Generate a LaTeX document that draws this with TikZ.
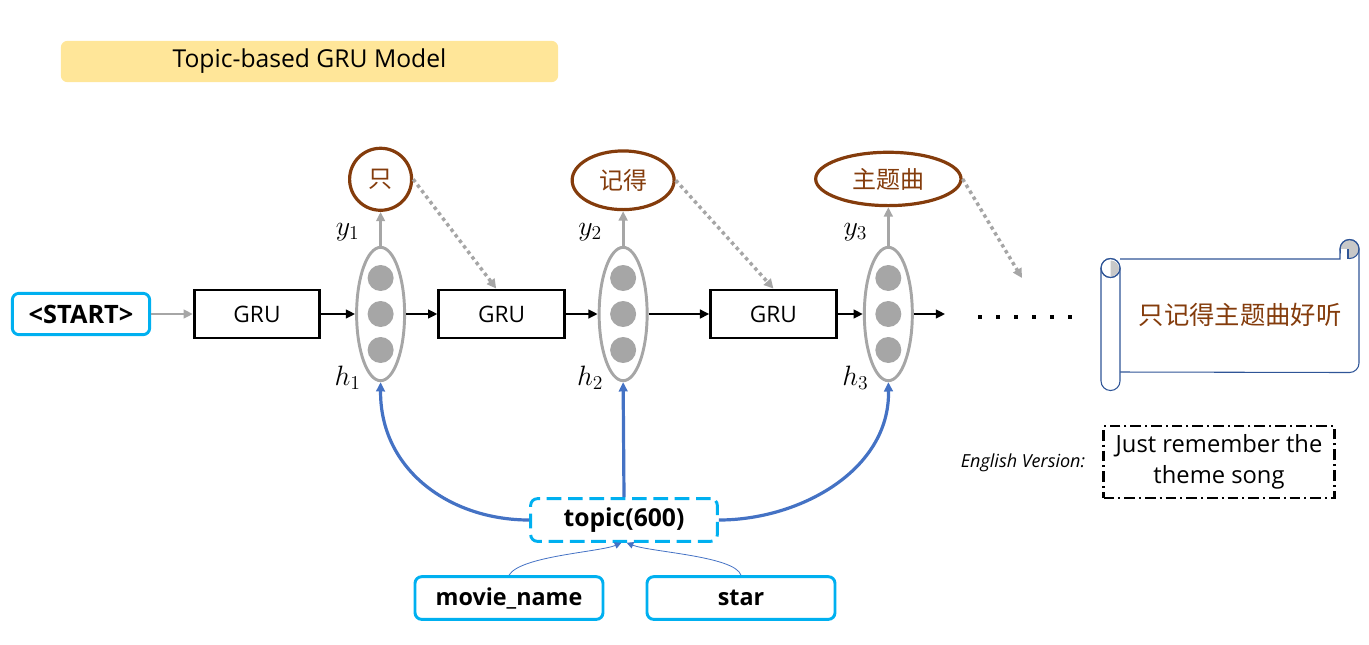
\documentclass[tikz,border=0pt]{standalone}
\usepackage{fix-cm}
\usepackage{fontspec}
\setmainfont{Open Sans}
\newfontfamily\cjk{Noto Sans CJK SC}
\usetikzlibrary{positioning,shapes.geometric,arrows.meta}
\definecolor{inputcolor}{RGB}{0,176,240}
\definecolor{wordcolor}{RGB}{132,60,12}
\definecolor{arrowgray}{RGB}{166,166,166}
\definecolor{topicblue}{RGB}{68,114,196}
\definecolor{titlecolor}{RGB}{255,230,153}
\definecolor{scrollcolor}{RGB}{47,85,151}
\definecolor{scrollfill}{RGB}{200,200,200}

\begin{document}
\begin{tikzpicture}[
	x=0.75pt, y=-0.75pt,
	gru/.style={draw, line width=2.2pt, minimum width=94pt, minimum height=36pt,
		font=\fontsize{17}{20}\selectfont},
	inputbox/.style={draw=inputcolor, line width=2.2pt, rounded corners=5pt,
		minimum height=31pt, font=\fontsize{17.5}{21}\selectfont\bfseries},
	hidden/.style={ellipse, draw=arrowgray, line width=2.2pt, minimum width=36pt,
		minimum height=100pt, inner sep=0pt},
	hunit/.style={circle, fill=arrowgray, minimum size=19.5pt, inner sep=0pt},
	wordnode/.style={draw=wordcolor, line width=2.4pt, text=wordcolor, inner sep=1pt,
		font=\cjk\fontsize{18}{21}\selectfont},
	statelabel/.style={font=\fontsize{21}{23}\selectfont},
	flow/.style={-{Triangle[length=7pt,width=6.5pt]}, line width=2.2pt},
	feedback/.style={-{Triangle[length=7pt,width=7pt]}, arrowgray, line width=2.6pt,
		dash pattern=on 2.6pt off 2.6pt},
	topiclink/.style={-{Triangle[length=7pt,width=6.5pt]}, topicblue, line width=2.4pt},
	sidelink/.style={-{Triangle[length=5pt,width=5pt]}, topicblue, line width=0.6pt},
	scrollline/.style={draw=scrollcolor, line width=0.8pt},
]
\useasboundingbox (0,0) rectangle (1369,644);
% \hiddenlayer[placement](name){step}: ellipse with three units and its y/h labels.
\def\hiddenlayer[#1](#2)#3{
	\node[hidden, #1] (#2) {};
	\node[hunit] at ([yshift=27pt]#2.center) (#2top) {};
	\node[hunit] at (#2.center) (#2mid) {};
	\node[hunit] at ([yshift=-27pt]#2.center) (#2bot) {};
	\node[statelabel] at ([shift={(-24.75pt,61.5pt)}]#2.center) (ylab#3) {$y_#3$};
	\node[statelabel] at ([shift={(-24.75pt,-48pt)}]#2.center) (hlab#3) {$h_#3$};
}
	\node[fill=titlecolor, rounded corners=5pt, minimum width=373pt, minimum height=31pt,
		font=\fontsize{18.5}{20}\selectfont] (title) at (309.5,61.5) {Topic-based GRU Model};

	% Recurrent chain.
	\node[inputbox, minimum width=103pt, font=\fontsize{19}{21}\selectfont\bfseries]
		(start) at (81,314) {<START>};
	\node[gru] (gru1) at (257,314) {GRU};
	\hiddenlayer[right=25.5pt of gru1](hs1){1}
	\node[gru, right=23.5pt of hs1] (gru2) {GRU};
	\hiddenlayer[right=24pt of gru2](hs2){2}
	\node[gru, right=45.5pt of hs2] (gru3) {GRU};
	\hiddenlayer[right=19pt of gru3](hs3){3}
	\coordinate[right=23.5pt of hs3] (hs3out);

	\draw[flow, arrowgray] (start) -- (gru1);
	\draw[flow] (gru1) -- (hs1);
	\draw[flow] (hs1) -- (gru2);
	\draw[flow] (gru2) -- (hs2);
	\draw[flow] (hs2) -- (gru3);
	\draw[flow] (gru3) -- (hs3);
	\draw[flow] (hs3) -- (hs3out);

	% Generated words.
	\node[wordnode, circle, minimum size=46.5pt, above=25.5pt of hs1] (w1) {只};
	\node[wordnode, ellipse, minimum width=76.5pt, minimum height=44pt,
		above=26pt of hs2] (w2) {记得};
	\node[wordnode, ellipse, minimum width=109pt, minimum height=40pt,
		above=29pt of hs3] (w3) {主题曲};
	\draw[flow, arrowgray] (hs1) -- (w1);
	\draw[flow, arrowgray] (hs2) -- (w2);
	\draw[flow, arrowgray] (hs3) -- (w3);
	\coordinate (next) at (1022,278);
	\draw[feedback] (w1.east) -- ([xshift=-4pt]gru2.north);
	\draw[feedback] (w2.east) -- (gru3.north);
	\draw[feedback] (w3.east) -- (next);

	\coordinate (dotsL) at (978,317);
	\coordinate (dotsR) at (1072,317);
	\draw[line width=3pt, dash pattern=on 3pt off 10.5pt] (dotsL) -- (dotsR);

	% Topic vector and its inputs.
	\node[inputbox, dash pattern=on 11pt off 5pt, minimum width=140pt, minimum height=32pt,
		font=\fontsize{18.5}{21}\selectfont\bfseries] (topic) at (624,520) {topic(600)};
	\draw[topiclink] (topic.north) -- (hs2.south);
	\draw[topiclink] (topic.west) .. controls (450,520) and (380,470) .. (hs1.south);
	\draw[topiclink] (topic.east) .. controls (800,520) and (890,470) .. (hs3.south);
	\node[inputbox, minimum width=141pt, minimum height=32pt] (movie) at (509,598) {movie\_name};
	\node[inputbox, minimum width=141pt, minimum height=32pt] (star) at (741,598) {star};
	\draw[sidelink] (movie.north) .. controls (520,556) and (600,552) .. ([xshift=-2pt]topic.south);
	\draw[sidelink] (star.north) .. controls (735,556) and (650,552) .. ([xshift=2pt]topic.south);

	% Scroll with the generated sentence.
	\filldraw[scrollline, fill=scrollfill] (1349.5,249) circle (9.5);
	\fill[white] (1340.5,249) rectangle (1347.5,258.5);
	\draw[scrollline] (1348,249) -- (1348,259);
	\draw[scrollline] (1120,259) -- (1340,259) -- (1340,249) arc (180:360:9.5)
		-- (1359,363) arc (0:90:9.5) -- (1120,372);
	\draw[scrollline, fill=white] (1101,268) -- (1101,381) arc (180:0:9.5) -- (1120,268);
	\filldraw[scrollline, fill=white] (1110.5,268) circle (9.5);
	\fill[scrollfill] (1110.5,260.5) arc (270:450:8.5 and 8) -- cycle;
	\draw[scrollline] (1110.5,268) circle (9.5);
	\node[text=wordcolor, font=\cjk\fontsize{19}{22}\selectfont] (result) at (1240,315)
		{只记得主题曲好听};

	\node[font=\itshape\fontsize{13.5}{15}\selectfont] (envlabel) at (1023,463) {English Version:};
	\node[draw, line width=2pt, dash pattern=on 8pt off 3pt on 1.5pt off 3pt, align=center,
		minimum width=173pt, minimum height=54pt, inner sep=2pt,
		font=\fontsize{17.8}{23.5}\selectfont] (translation) at (1219,462)
		{Just remember the\\theme song};
\end{tikzpicture}
\end{document}
